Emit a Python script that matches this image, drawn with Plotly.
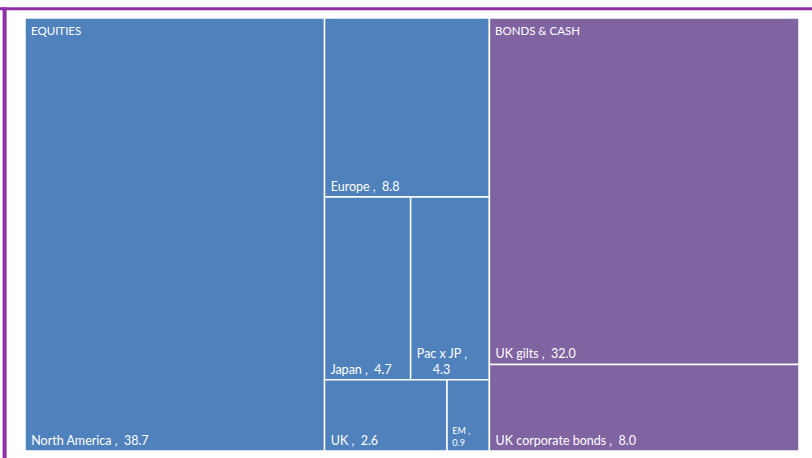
import plotly.graph_objects as go

# Portfolio allocation (%), grouped into two asset classes
groups = ["EQUITIES", "BONDS & CASH"]
equity_regions = ["North America", "Europe", "Japan", "Pac x JP", "UK", "EM"]
equity_weights = [38.7, 8.8, 4.7, 4.3, 2.6, 0.9]
bond_types = ["UK gilts", "UK corporate bonds"]
bond_weights = [32.0, 8.0]

BLUE = "#4F81BD"
PURPLE = "#8064A2"
FONT = "Lato, Calibri, sans-serif"
NBSP = "\u00a0"

ids, labels, parents, values, colors, texts, sizes = [], [], [], [], [], [], []

# group (parent) nodes
for g, members, col in [(groups[0], equity_weights, BLUE), (groups[1], bond_weights, PURPLE)]:
    ids.append(g); labels.append(g); parents.append("")
    values.append(round(sum(members), 1)); colors.append(col)
    texts.append(""); sizes.append(12)

# leaf nodes; narrow tiles wrap the value onto a second line
second_line_indent = {"Pac x JP": 5, "EM": 0}
for names, weights, g, col in [(equity_regions, equity_weights, groups[0], BLUE),
                               (bond_types, bond_weights, groups[1], PURPLE)]:
    for n, w in zip(names, weights):
        ids.append(g + "/" + n); labels.append(n); parents.append(g)
        values.append(w); colors.append(col)
        if n in second_line_indent:
            pad = NBSP * (1 + second_line_indent[n])
            texts.append(f"{NBSP}{n} ,<br>{pad}{w:.1f}")
        else:
            texts.append(f"{NBSP}{n} ,{NBSP}{NBSP}{w:.1f}")
        sizes.append(9 if n == "EM" else 12.5)

fig = go.Figure(go.Treemap(
    ids=ids, labels=labels, parents=parents, values=values,
    branchvalues="total", sort=True,
    text=texts, textinfo="text", textposition="bottom left",
    textfont=dict(family=FONT, size=sizes, color="white"),
    marker=dict(colors=colors, line=dict(color="white", width=1.5),
                pad=dict(t=0, l=0, r=0, b=0)),
    tiling=dict(packing="squarify", squarifyratio=1.618, pad=0),
    pathbar=dict(visible=False),
    hoverinfo="skip",
))

# group titles sit at the top-left corner of each group block
total = sum(values[:2])
eq_share = values[0] / total
for g, x in [(groups[0], 0.0), (groups[1], eq_share)]:
    fig.add_annotation(text=g, x=x, y=1, xref="paper", yref="paper",
                       xanchor="left", yanchor="top", xshift=4, yshift=-4,
                       showarrow=False,
                       font=dict(family=FONT, size=11.5, color="white"))

# slide frame: purple rule along the top and left
L, R, T, B = 25, 13, 18, 7
W, H = 812, 458
pw, ph = W - L - R, H - T - B
px = lambda x: (x - L) / pw
py = lambda y: (H - B - y) / ph
FRAME = "#8E2FA8"
fig.add_shape(type="rect", xref="paper", yref="paper",
              x0=px(0), x1=px(812), y0=py(10.3), y1=py(7.2),
              fillcolor=FRAME, line_width=0, layer="above")
fig.add_shape(type="rect", xref="paper", yref="paper",
              x0=px(2.6), x1=px(6.6), y0=py(458), y1=py(7.2),
              fillcolor=FRAME, line_width=0, layer="above")

fig.update_layout(width=W, height=H, margin=dict(l=L, r=R, t=T, b=B),
                  paper_bgcolor="white", showlegend=False)

fig.write_html("out.html")
